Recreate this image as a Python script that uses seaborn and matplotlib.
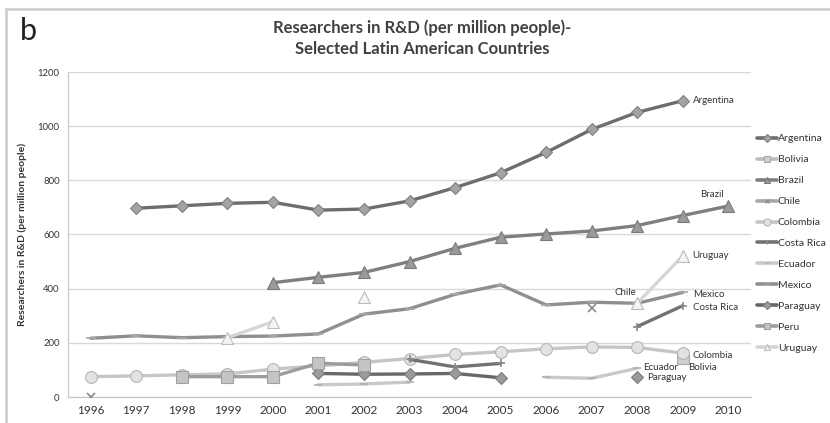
import numpy as np
import pandas as pd
import matplotlib
matplotlib.use("Agg")
import matplotlib.pyplot as plt
import seaborn as sns
from matplotlib.lines import Line2D
from matplotlib.patches import Rectangle

nan = np.nan
years = list(range(1996, 2011))
countries = ["Argentina", "Bolivia", "Brazil", "Chile", "Colombia", "Costa Rica",
             "Ecuador", "Mexico", "Paraguay", "Peru", "Uruguay"]

argentina = [nan, 697, 706, 715, 719, 690, 694, 724, 773, 828, 903, 988, 1051, 1094, nan]
bolivia = [nan, nan, nan, nan, nan, nan, nan, nan, nan, nan, nan, nan, nan, 145, nan]
brazil = [nan, nan, nan, nan, 422, 442, 460, 500, 549, 590, 602, 613, 633, 670, 705]
chile = [0, nan, nan, nan, nan, nan, nan, nan, nan, nan, nan, 328, nan, nan, nan]
colombia = [75, 78, 82, 85, 103, 115, 128, 142, 157, 167, 178, 185, 183, 162, nan]
costa_rica = [nan, nan, nan, nan, nan, nan, nan, 139, 111, 124, nan, nan, 260, 337, nan]
ecuador = [nan, nan, nan, nan, nan, 45, 48, 55, nan, nan, 73, 69, 106, nan, nan]
mexico = [217, 226, 219, 223, 225, 233, 306, 326, 379, 414, 340, 350, 346, 386, nan]
paraguay = [nan, nan, nan, nan, nan, 87, 84, 85, 87, 71, nan, nan, 75, nan, nan]
peru = [nan, nan, 75, 75, 75, 125, 118, nan, nan, nan, nan, nan, nan, nan, nan]
uruguay = [nan, nan, nan, 219, 278, nan, 370, nan, nan, nan, nan, nan, 346, 521, nan]

series = [argentina, bolivia, brazil, chile, colombia, costa_rica,
          ecuador, mexico, paraguay, peru, uruguay]

# label anchors: (country, year, dx px, dy px, ha)
labels = [("Argentina", 2009, 10, 0, "left"),
          ("Brazil", 2010, -4, 12, "right"),
          ("Uruguay", 2009, 10, 0, "left"),
          ("Chile", 2007, 23, 16, "left"),
          ("Mexico", 2009, 10, -2, "left"),
          ("Costa Rica", 2009, 10, -2, "left"),
          ("Colombia", 2009, 10, -2, "left"),
          ("Ecuador", 2008, 6, 1, "left"),
          ("Bolivia", 2009, 5, -10, "left"),
          ("Paraguay", 2008, 10, -1, "left")]

styles = {
    "Argentina": dict(color="#6d6d6d", marker="D", mfc="#a3a3a3", mec="#808080", ms=6.5),
    "Bolivia": dict(color="#bdbdbd", marker="s", mfc="#cfcfcf", mec="#a8a8a8", ms=8),
    "Brazil": dict(color="#7f7f7f", marker="^", mfc="#9a9a9a", mec="#7a7a7a", ms=8),
    "Chile": dict(color="#a6a6a6", marker="x", mfc="#8a8a8a", mec="#8a8a8a", ms=6),
    "Colombia": dict(color="#c6c6c6", marker="o", mfc="#e2e2e2", mec="#b5b5b5", ms=8.5),
    "Costa Rica": dict(color="#727272", marker="+", mfc="#8a8a8a", mec="#8a8a8a", ms=6),
    "Ecuador": dict(color="#c9c9c9", marker="_", mfc="#e0e0e0", mec="#b0b0b0", ms=6),
    "Mexico": dict(color="#8f8f8f", marker="_", mfc="#b0b0b0", mec="#a8a8a8", ms=7),
    "Paraguay": dict(color="#676767", marker="D", mfc="#9b9b9b", mec="#7a7a7a", ms=6.5),
    "Peru": dict(color="#9c9c9c", marker="s", mfc="#c4c4c4", mec="#a0a0a0", ms=8),
    "Uruguay": dict(color="#d6d6d6", marker="^", mfc="#f4f4f4", mec="#bdbdbd", ms=8),
}

rows = []
for c, vals in zip(countries, series):
    seg = 0
    prev_nan = True
    for y, v in zip(years, vals):
        if np.isnan(v):
            prev_nan = True
            continue
        if prev_nan:
            seg += 1
        prev_nan = False
        rows.append(dict(country=c, year=y, value=v, seg=seg))
df = pd.DataFrame(rows)

sns.set_theme(style="white")
plt.rcParams["font.family"] = ["Lato", "DejaVu Sans"]

fig = plt.figure(figsize=(8.3, 4.23), dpi=100)
fig.patch.set_facecolor("white")
ax = fig.add_axes([68 / 830, 1 - 397 / 423, (751 - 68) / 830, (397 - 72) / 423])

for c in countries:
    st = styles[c]
    sub = df[df.country == c]
    sns.lineplot(data=sub, x="year", y="value", units="seg", estimator=None, ax=ax,
                 color=st["color"], lw=2.4, marker=st["marker"], markersize=st["ms"],
                 markerfacecolor=st["mfc"], markeredgecolor=st["mec"],
                 markeredgewidth=1.2 if st["marker"] in ("x", "+", "_") else 0.8,
                 legend=False, zorder=3)

ax.set_xlim(1995.5, 2010.5)
ax.set_ylim(0, 1200)
ax.set_xticks(years)
ax.set_xticklabels([str(y) for y in years], fontsize=8.5, color="#333333")
ax.set_xticks([y + 0.5 for y in years[:-1]], minor=True)
ax.set_yticks(range(0, 1201, 200))
ax.set_yticklabels([str(v) for v in range(0, 1201, 200)], fontsize=6.8, color="#333333")
ax.tick_params(axis="x", which="major", length=0, pad=6)
ax.tick_params(axis="x", which="minor", length=4, color="#bbbbbb", width=0.8, direction="out")
ax.tick_params(axis="y", length=4, color="#bbbbbb", width=0.8, direction="out", pad=2)
ax.yaxis.grid(True, color="#d9d9d9", lw=1.0)
ax.set_axisbelow(True)
for s in ["top", "right"]:
    ax.spines[s].set_visible(False)
ax.spines["left"].set_color("#c8c8c8")
ax.spines["bottom"].set_color("#c8c8c8")
ax.spines["left"].set_linewidth(0.9)
ax.spines["bottom"].set_linewidth(0.9)
ax.set_xlabel("")
ax.set_ylabel("Researchers in R&D (per million people)", fontsize=7.5, fontweight="bold",
              color="#333333", labelpad=8)

vals_map = {c: dict(zip(years, v)) for c, v in zip(countries, series)}
for c, yr, dx, dy, ha in labels:
    ax.annotate(c, xy=(yr, vals_map[c][yr]), xytext=(dx, dy), textcoords="offset pixels",
                ha=ha, va="center", fontsize=7, color="#333333")

handles = []
for c in countries:
    st = styles[c]
    handles.append(Line2D([], [], color=st["color"], lw=2.6, marker=st["marker"],
                          markersize=st["ms"] * 0.6, markerfacecolor=st["mfc"],
                          markeredgecolor=st["mec"], markeredgewidth=0.8))
fig.legend(handles, countries, loc="center left", bbox_to_anchor=(757 / 830, 1 - 243.5 / 423),
           frameon=False, fontsize=7.5, labelspacing=1.12, handlelength=1.9,
           handletextpad=0.1, borderpad=0, borderaxespad=0, labelcolor="#333333")

fig.text(422 / 830, 1 - 28 / 423, "Researchers in R&D (per million people)-", ha="center",
         va="center", fontsize=12, fontweight="bold", color="#404040")
fig.text(422 / 830, 1 - 49 / 423, "Selected Latin American Countries", ha="center",
         va="center", fontsize=12, fontweight="bold", color="#404040")
fig.text(20 / 830, 1 - 31 / 423, "b", ha="left", va="center", fontsize=22, color="#222222")

fig.patches.append(Rectangle((6 / 830, -0.1), 2.0, 1.1 - 9 / 423, transform=fig.transFigure,
                             fill=False, edgecolor="#cfcfcf", lw=2.0))

fig.savefig("out.png", dpi=100, facecolor="white")
